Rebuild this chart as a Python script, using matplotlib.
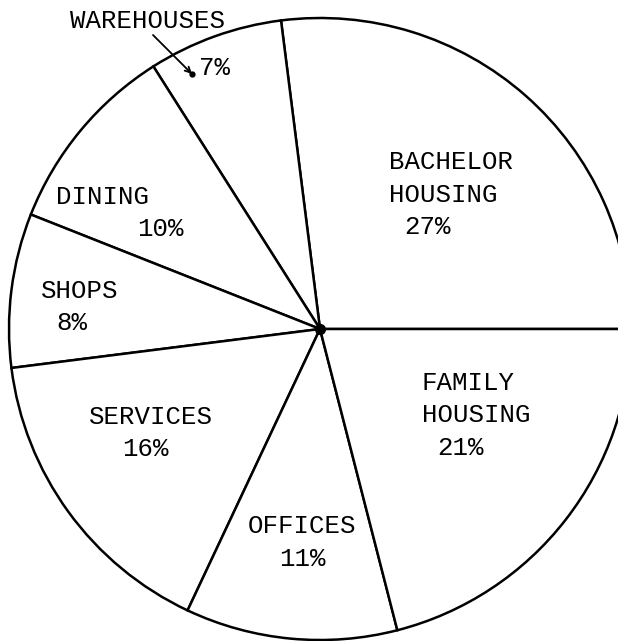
import matplotlib
matplotlib.use("Agg")
from matplotlib import pyplot as plt

# share of building area by use, counterclockwise from 3 o'clock
categories = ["BACHELOR\nHOUSING", "WAREHOUSES", "DINING", "SHOPS",
              "SERVICES", "OFFICES", "FAMILY\nHOUSING"]
shares = [27, 7, 10, 8, 16, 11, 21]

plt.rcParams['font.family'] = ['Liberation Mono', 'DejaVu Sans Mono']

fig = plt.figure(figsize=(6.18, 6.41), dpi=100)
ax = fig.add_axes([0, 0, 1, 1])

# work in pixel coordinates, y downwards
cx, cy, r = 320, 329, 311
ax.pie(shares, center=(cx, cy), radius=r, startangle=0, counterclock=False,
       colors=['white'] * len(shares),
       wedgeprops=dict(edgecolor='black', linewidth=1.8))
ax.plot(cx, cy, 'o', color='black', ms=7)

ax.set_xlim(0, 618)
ax.set_ylim(641, 0)
ax.set_aspect('equal')
ax.axis('off')

fs = 18.5
tkw = dict(fontsize=fs, color='black', va='center', ha='left', linespacing=1.1)

# label placement (left edge, centre of first line) and indent of the percentage
layout = {
    "BACHELOR\nHOUSING": (389, 162, 1),
    "DINING": (56, 197, None),
    "SHOPS": (41, 291, 1),
    "SERVICES": (89, 417, None),
    "OFFICES": (248, 526, 2),
    "FAMILY\nHOUSING": (422, 383, 1),
}
line_h = 32.5

for name, val in zip(categories, shares):
    if name == "WAREHOUSES":
        ax.text(148, 21, name, fontsize=fs, ha='center', va='center')
        ax.text(199, 68, f"{val}%", fontsize=fs, ha='left', va='center')
        ax.annotate('', xy=(192, 74), xytext=(153, 35),
                    arrowprops=dict(arrowstyle='->', lw=1.3, color='black',
                                    shrinkA=0, shrinkB=0))
        ax.plot(192, 74, 'o', color='black', ms=3.5)
        continue
    x, y, indent = layout[name]
    lines = name.split("\n")
    for i, line in enumerate(lines):
        ax.text(x, y + i * line_h, line, **tkw)
    py = y + len(lines) * line_h
    if name == "DINING":
        ax.text(137, 229, f"{val}%", **tkw)
    elif name == "SERVICES":
        ax.text(145, 449, f"{val}%", fontsize=fs, ha='center', va='center')
    else:
        ax.text(x + indent * 15.4, py, f"{val}%", **tkw)

fig.savefig("out.png", dpi=100)
